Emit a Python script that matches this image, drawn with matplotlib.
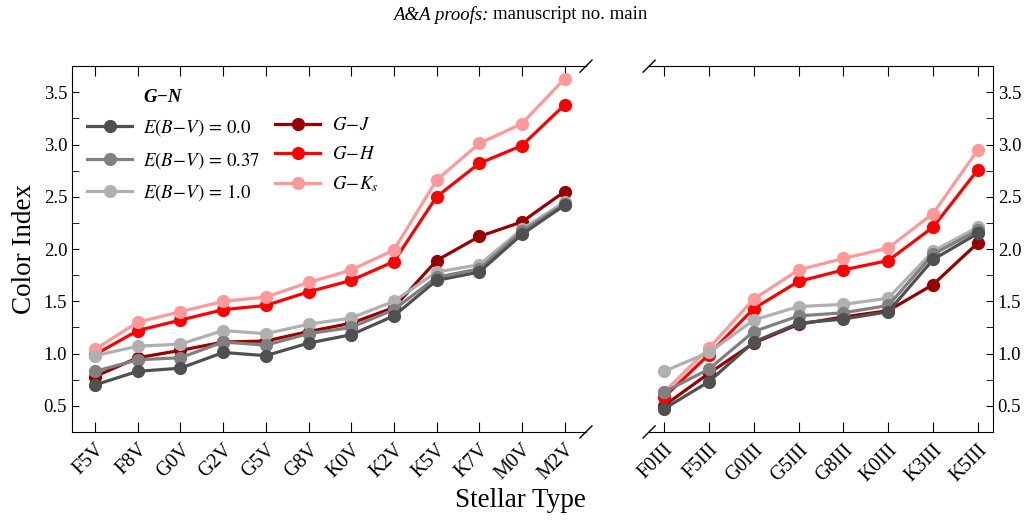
import numpy as np
import matplotlib
matplotlib.use("Agg")
from matplotlib import pyplot as plt
from matplotlib.lines import Line2D
from matplotlib.ticker import MultipleLocator

plt.rcParams['font.family'] = ['Liberation Serif', 'DejaVu Serif']
plt.rcParams['mathtext.fontset'] = 'stix'

# %% data
dwarf_types = ['F5V', 'F8V', 'G0V', 'G2V', 'G5V', 'G8V', 'K0V', 'K2V', 'K5V', 'K7V', 'M0V', 'M2V']
giant_types = ['F0III', 'F5III', 'G0III', 'G5III', 'G8III', 'K0III', 'K3III', 'K5III']

dwarf_e00 = [0.70, 0.83, 0.86, 1.01, 0.98, 1.10, 1.18, 1.36, 1.70, 1.78, 2.14, 2.42]
dwarf_e037 = [0.83, 0.94, 0.96, 1.11, 1.08, 1.19, 1.25, 1.42, 1.73, 1.81, 2.17, 2.43]
dwarf_e10 = [0.98, 1.07, 1.09, 1.22, 1.19, 1.28, 1.34, 1.50, 1.78, 1.85, 2.19, 2.45]
dwarf_gj = [0.78, 0.96, 1.03, 1.11, 1.12, 1.21, 1.29, 1.44, 1.89, 2.12, 2.26, 2.55]
dwarf_gh = [0.99, 1.22, 1.32, 1.42, 1.46, 1.59, 1.70, 1.88, 2.50, 2.82, 2.99, 3.38]
dwarf_gk = [1.04, 1.30, 1.40, 1.50, 1.54, 1.68, 1.80, 1.99, 2.66, 3.01, 3.20, 3.63]

giant_e00 = [0.47, 0.73, 1.11, 1.29, 1.33, 1.40, 1.90, 2.15]
giant_e037 = [0.63, 0.85, 1.21, 1.36, 1.39, 1.46, 1.95, 2.18]
giant_e10 = [0.83, 1.01, 1.32, 1.45, 1.47, 1.53, 1.98, 2.21]
giant_gj = [0.50, 0.81, 1.10, 1.28, 1.35, 1.41, 1.66, 2.06]
giant_gh = [0.58, 0.99, 1.43, 1.69, 1.80, 1.89, 2.21, 2.76]
giant_gk = [0.63, 1.05, 1.52, 1.80, 1.91, 2.01, 2.34, 2.95]

labels = [r'$E(B\!-\!V)\,=\,0.0$', r'$E(B\!-\!V)\,=\,0.37$', r'$E(B\!-\!V)\,=\,1.0$',
          r'$G\!-\!J$', r'$G\!-\!H$', r'$G\!-\!K_s$']
colors = ['#505050', '#808080', '#b0b0b0', '#990000', '#ff0000', '#ff9999']

# %% figure
fig = plt.figure(figsize=(10.32, 5.21), dpi=100)
ax1 = fig.add_axes([0.0698, 0.171, 0.498, 0.702])
ax2 = fig.add_axes([0.629, 0.171, 0.333, 0.702])

dwarf = [dwarf_e00, dwarf_e037, dwarf_e10, dwarf_gj, dwarf_gh, dwarf_gk]
giant = [giant_e00, giant_e037, giant_e10, giant_gj, giant_gh, giant_gk]
order = [3, 4, 5, 2, 1, 0]  # grey lines on top

for i in order:
    ax1.plot(np.arange(len(dwarf_types)), dwarf[i], '-o', color=colors[i], lw=2.3, ms=8.5)
    ax2.plot(np.arange(len(giant_types)), giant[i], '-o', color=colors[i], lw=2.3, ms=8.5)

for ax, names in [(ax1, dwarf_types), (ax2, giant_types)]:
    ax.set_ylim(0.25, 3.75)
    ax.yaxis.set_major_locator(MultipleLocator(0.5))
    ax.yaxis.set_minor_locator(MultipleLocator(0.25))
    ax.set_xticks(np.arange(len(names)))
    ax.set_xticklabels(names, rotation=45, ha='right', rotation_mode='anchor', fontsize=14.5)
    ax.tick_params(axis='x', which='both', direction='in', top=True, bottom=True, length=7, pad=6)
    ax.tick_params(axis='y', which='both', direction='in', length=5, labelsize=13.5)

ax1.set_xlim(-0.54, 11.5)
ax2.set_xlim(-0.33, 7.33)
ax1.spines['right'].set_visible(False)
ax2.spines['left'].set_visible(False)
ax1.tick_params(axis='y', which='both', left=True, right=False)
ax2.tick_params(axis='y', which='both', left=False, right=True, labelleft=False, labelright=True)

# break marks
for ax, xs in [(ax1, [1]), (ax2, [0])]:
    bb = ax.get_position()
    wpx = bb.width * 1032
    hpx = bb.height * 521
    dx, dy = 6 / wpx, 6 / hpx
    for x in xs:
        for y in [0, 1]:
            ax.plot([x - dx, x + dx], [y - dy, y + dy], color='k', lw=1,
                    transform=ax.transAxes, clip_on=False)

ax1.set_ylabel('Color Index', fontsize=19.5, labelpad=5)
ax1.set_xlabel('Stellar Type', fontsize=19.5, loc='right', labelpad=3)

# legend with header row
blank = Line2D([], [], color='none')
h = [Line2D([], [], color=c, lw=2.3, marker='o', ms=8.5) for c in colors]
leg_h = [blank, h[0], h[1], h[2], blank, h[3], h[4], h[5]]
leg_l = ['G\u2212N', labels[0], labels[1], labels[2], ' ', labels[3], labels[4], labels[5]]
leg = ax1.legend(leg_h, leg_l, ncol=2, loc='upper left', bbox_to_anchor=(0.0, 0.98),
                 frameon=False, fontsize=13.5, handlelength=2.4, handletextpad=0.6,
                 columnspacing=0.8, labelspacing=0.62, borderaxespad=0.4)
t = leg.get_texts()[0]
t.set_fontweight('bold')
t.set_fontstyle('italic')

fig.text(0.4735, 0.972, 'A&A proofs:', style='italic', ha='right', va='center', fontsize=13.5)
fig.text(0.4775, 0.972, 'manuscript no. main', ha='left', va='center', fontsize=13.5)

plt.savefig('out.png', dpi=100)
